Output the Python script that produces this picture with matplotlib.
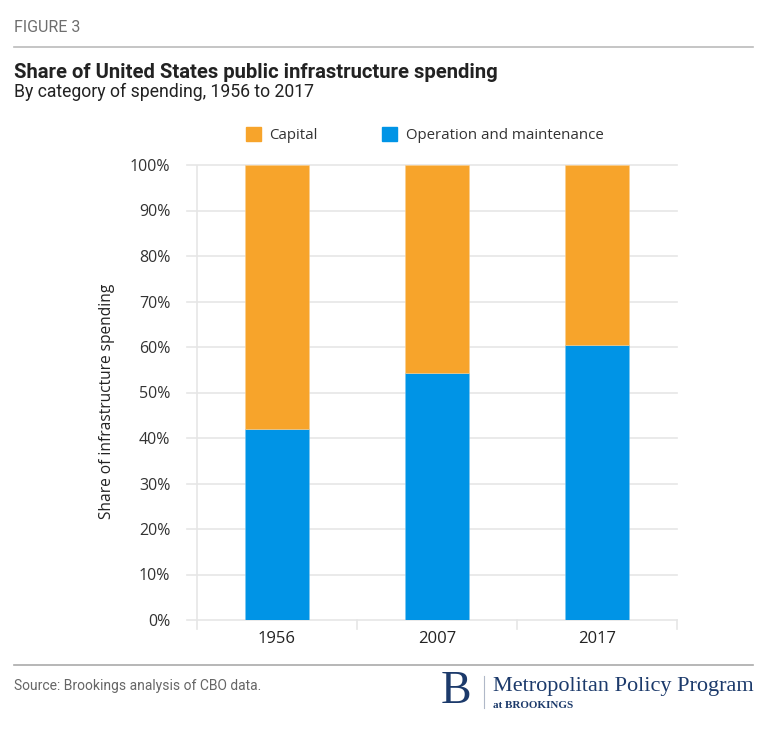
import matplotlib
matplotlib.use("Agg")
import matplotlib.pyplot as plt
from matplotlib.patches import Rectangle
from matplotlib.lines import Line2D

years = ["1956", "2007", "2017"]
operation_maintenance = [42.0, 54.2, 60.5]
capital = [100 - v for v in operation_maintenance]
yticks = [0, 10, 20, 30, 40, 50, 60, 70, 80, 90, 100]
ytick_labels = [f"{v}%" for v in yticks]

ORANGE = "#F7A42B"
BLUE = "#0094E6"
GRID = "#E6E6E6"
NAVY = "#1C3A6B"
TXT = "#333333"

W, H = 768, 738
fig = plt.figure(figsize=(W / 100, H / 100), dpi=100)

def fx(px):
    return px / W

def fy(py):
    return 1 - py / H

narrow = ["Roboto", "DejaVu Sans"]
body = ["Open Sans", "DejaVu Sans"]
serif = ["Liberation Serif", "DejaVu Serif"]

# header
fig.text(fx(14), fy(27), "FIGURE 3", family=narrow, fontsize=11.5,
         color="#6E6E6E", va="center")
fig.add_artist(Line2D([fx(14), fx(753)], [fy(47), fy(47)], color="#BBBBBB", lw=1.2))
fig.text(fx(14), fy(72), "Share of United States public infrastructure spending", family=narrow,
         fontsize=14.6, fontweight="bold", color="#222222", va="center")
fig.text(fx(14), fy(92), "By category of spending, 1956 to 2017", family=narrow,
         fontsize=12.7, color="#222222", va="center")

# axes
ax_l, ax_r, ax_t, ax_b = 187, 677, 165, 620
ax = fig.add_axes([fx(ax_l), fy(ax_b), (ax_r - ax_l) / W, (ax_b - ax_t) / H])
x = list(range(len(years)))
ax.bar(x, operation_maintenance, width=0.4, color=BLUE, edgecolor="#7cc6f0", linewidth=0.4,
       zorder=3, label="Operation and maintenance")
ax.bar(x, capital, bottom=operation_maintenance, width=0.4, color=ORANGE, edgecolor="#fbcf8f",
       linewidth=0.4, zorder=3, label="Capital")
ax.set_xlim(-0.5625, 2.5)
ax.set_ylim(0, 100)
for s in ax.spines.values():
    s.set_visible(False)
ax.set_yticks(yticks)
ax.set_yticklabels(ytick_labels, family=body, fontsize=11.5, color=TXT)
ax.tick_params(axis="y", length=0, pad=12)
ax.set_xticks(x)
ax.set_xticklabels(years, family=body, fontsize=12, color="#222222")
ax.tick_params(axis="x", length=0, pad=8)
for v in yticks:
    ax.axhline(v, color=GRID, lw=1.2, zorder=1, clip_on=False)
ax.axvline(-0.5, ymin=0, ymax=1, color=GRID, lw=1.2, zorder=1)
for b in [-0.5, 0.5, 1.5, 2.5]:
    ax.plot([b, b], [0, -2], color=GRID, lw=1.2, clip_on=False, zorder=1)
ax.set_ylabel("Share of infrastructure spending", family=body, fontsize=11.2, color="#222222")
ax.yaxis.set_label_coords(-(187 - 115) / 490, (620 - 401) / 455)

# legend
handles = [Rectangle((0, 0), 1, 1, color=ORANGE), Rectangle((0, 0), 1, 1, color=BLUE)]
fig.legend(handles, ["Capital", "Operation and maintenance"], loc="center left",
           bbox_to_anchor=(fx(232), fy(135)), ncol=2, frameon=False,
           prop={"family": body, "size": 10.8}, handlelength=1.0, handleheight=1.0,
           columnspacing=4.3, handletextpad=0.6, labelcolor=TXT)

# footer
fig.add_artist(Line2D([fx(14), fx(753)], [fy(665), fy(665)], color="#AAAAAA", lw=1.2))
fig.text(fx(14), fy(686), "Source: Brookings analysis of CBO data.", family=narrow, fontsize=10,
         color="#666666", va="center")
fig.text(fx(441), fy(692), "B", family=serif, fontsize=33, color=NAVY, va="center", ha="left")
fig.add_artist(Line2D([fx(484), fx(484)], [fy(676), fy(708)], color="#B0B8C8", lw=0.8))
fig.text(fx(493), fy(686), "Metropolitan Policy Program", family=serif, fontsize=16, color=NAVY,
         va="center", ha="left")
fig.text(fx(493), fy(705), "at BROOKINGS", family=serif, fontsize=8, fontweight="bold", color=NAVY,
         va="center", ha="left")

fig.savefig("out.png", dpi=100)
